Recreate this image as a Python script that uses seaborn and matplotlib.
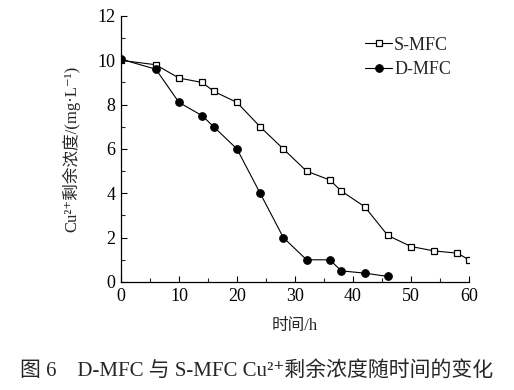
import matplotlib
matplotlib.use("Agg")
import matplotlib.pyplot as plt
import seaborn as sns
import pandas as pd
from matplotlib.ticker import MultipleLocator

s_time = [0, 6, 10, 14, 16, 20, 24, 28, 32, 36, 38, 42, 46, 50, 54, 58, 60]
s_conc = [10.0, 9.8, 9.2, 9.0, 8.6, 8.1, 7.0, 6.0, 5.0, 4.6, 4.1, 3.4, 2.1, 1.6, 1.4, 1.3, 1.0]
d_time = [0, 6, 10, 14, 16, 20, 24, 28, 32, 36, 38, 42, 46]
d_conc = [10.05, 9.6, 8.1, 7.5, 7.0, 6.0, 4.0, 2.0, 1.0, 1.0, 0.5, 0.4, 0.25]

sns.set_theme(style="ticks")
fam = ['Liberation Serif', 'Noto Sans CJK SC', 'DejaVu Sans']
plt.rcParams['font.family'] = fam
plt.rcParams['xtick.direction'] = 'in'
plt.rcParams['ytick.direction'] = 'in'

fig = plt.figure(figsize=(5.14, 3.9), dpi=100)
ax = fig.add_axes([0.2354, 0.277, 0.677, 0.682])

df_s = pd.DataFrame({'t': s_time, 'c': s_conc})
df_d = pd.DataFrame({'t': d_time, 'c': d_conc})

sns.lineplot(data=df_s, x='t', y='c', ax=ax, color='black', lw=0.8,
             marker='s', markersize=4.5, markerfacecolor='white',
             markeredgecolor='black', markeredgewidth=0.9, label='S-MFC')
sns.lineplot(data=df_d, x='t', y='c', ax=ax, color='black', lw=0.8,
             marker='o', markersize=5.5, markerfacecolor='black',
             markeredgecolor='black', label='D-MFC')

ax.set_xlim(0, 60)
ax.set_ylim(0, 12)
ax.xaxis.set_major_locator(MultipleLocator(10))
ax.xaxis.set_minor_locator(MultipleLocator(5))
ax.yaxis.set_major_locator(MultipleLocator(2))
ax.yaxis.set_minor_locator(MultipleLocator(1))
ax.tick_params(which='major', length=4, width=0.8, labelsize=13, colors='black', pad=4)
ax.tick_params(which='minor', length=3, width=0.8)
for sp in ['top', 'right']:
    ax.spines[sp].set_visible(False)
for sp in ['left', 'bottom']:
    ax.spines[sp].set_linewidth(0.9)
    ax.spines[sp].set_color('black')

ax.set_xlabel('时间/h', fontsize=12, labelpad=10, family=fam)
ax.set_ylabel('Cu²⁺剩余浓度/(mg·L⁻¹)', fontsize=12, labelpad=12, family=fam)

leg = ax.legend(loc='upper right', bbox_to_anchor=(0.985, 0.97), frameon=False,
                fontsize=13, handlelength=1.5, handletextpad=0.1, labelspacing=0.4,
                borderaxespad=0.3)

fig.text(0.5, 0.05, '图 6　D-MFC 与 S-MFC Cu²⁺剩余浓度随时间的变化',
         ha='center', va='center', fontsize=15, family=fam)

fig.savefig('out.png', dpi=100)
